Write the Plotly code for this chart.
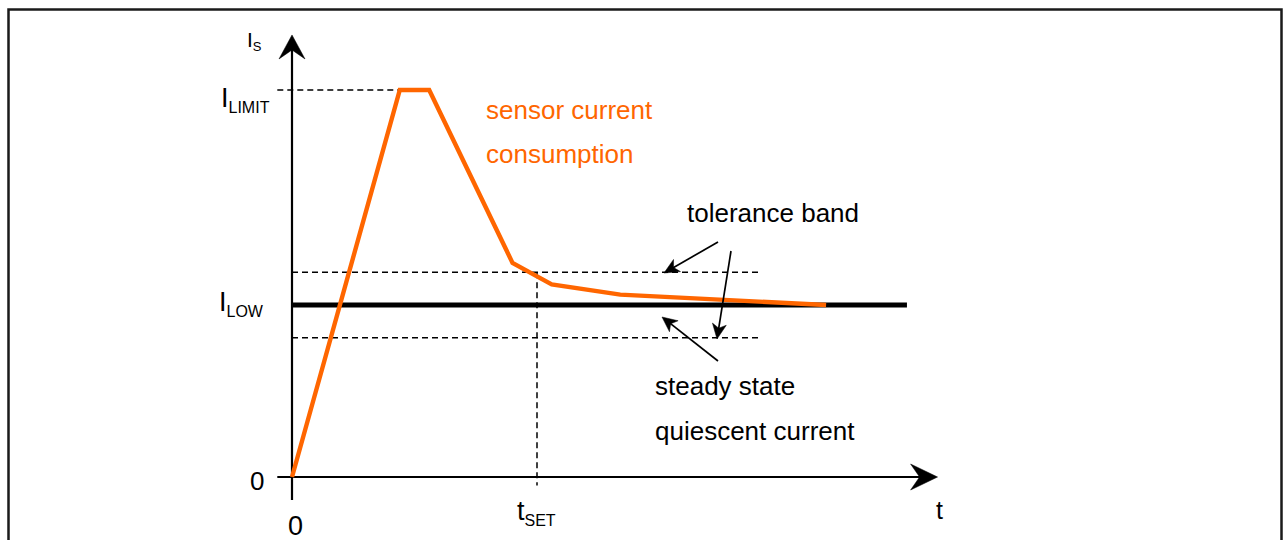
import plotly.graph_objects as go

# ---------------- data (t in units of t_SET, I in units of I_LOW) ----------------
t_curve = [0.0, 0.44, 0.56, 0.90, 1.06, 1.34, 2.18]
i_curve = [0.0, 2.25, 2.25, 1.245, 1.12, 1.06, 1.0]
I_LIMIT = 2.25
I_LOW = 1.0
TOL = 0.19
T_SET = 1.0
T_AXIS_END = 2.635
I_AXIS_END = 2.57
T_AXIS_START = -0.06
I_AXIS_START = -0.134
T_LOW_END = 2.51
T_TOL_END = 1.91
T_LIMIT_START = -0.06
I_TSET_BOTTOM = -0.05

y_tick_labels = ["0", "I<sub><span style='font-size:16px'>LOW</span></sub>",
                 "I<sub><span style='font-size:16px'>LIMIT</span></sub>"]
x_tick_labels = ["0", "t<sub><span style='font-size:16px'>SET</span></sub>"]
axis_titles = ["I<sub><span style='font-size:13px'>S</span></sub>", "t"]
curve_label = ["sensor current", "consumption"]
band_label = "tolerance band"
steady_label = ["steady state", "quiescent current"]

# ---------------- layout mapping ----------------
W, H = 1287, 540
X0PX, Y0PX = 292, 477
SX, SY = 245.0, 172.0


def dx(px):
    return (px - X0PX) / SX


def dy(py):
    return (Y0PX - py) / SY


def tpx(t):
    return X0PX + t * SX


def ipx(i):
    return Y0PX - i * SY


FONT = "Liberation Sans, Arial, sans-serif"
ORANGE = "#FF6600"

fig = go.Figure()

shapes = []


def line(x0, y0, x1, y1, width, dash="solid", color="black", layer="below"):
    shapes.append(dict(type="line", xref="x", yref="y", x0=x0, y0=y0, x1=x1, y1=y1,
                       line=dict(color=color, width=width, dash=dash), layer=layer))


def head(tip_t, tip_i, tail_t, tail_i, length, half, notch, layer="above"):
    # compute in pixel space, convert back to data space
    tx, ty = tpx(tip_t), ipx(tip_i)
    bx, by = tpx(tail_t), ipx(tail_i)
    vx, vy = tx - bx, ty - by
    n = (vx * vx + vy * vy) ** 0.5
    ux, uy = vx / n, vy / n
    px_, py_ = -uy, ux
    backx, backy = tx - ux * length, ty - uy * length
    lx, ly = backx + px_ * half, backy + py_ * half
    rx, ry = backx - px_ * half, backy - py_ * half
    nx, ny = tx - ux * (length - notch), ty - uy * (length - notch)
    pts = [(tx, ty), (lx, ly), (nx, ny), (rx, ry)]
    path = "M " + " L ".join(f"{dx(a):.5f},{dy(b):.5f}" for a, b in pts) + " Z"
    shapes.append(dict(type="path", xref="x", yref="y", path=path,
                       fillcolor="black", line=dict(color="black", width=0.5), layer=layer))


DASH = "6px,4px"
# dashed reference lines
line(T_LIMIT_START, I_LIMIT, t_curve[1], I_LIMIT, 1.5, DASH)
line(0, I_LOW + TOL, T_TOL_END, I_LOW + TOL, 1.5, DASH)
line(0, I_LOW - TOL, T_TOL_END, I_LOW - TOL, 1.5, DASH)
line(T_SET, I_LOW + TOL, T_SET, I_TSET_BOTTOM, 1.5, DASH)
# axes
line(0, I_AXIS_START, 0, I_AXIS_END - 0.08, 2.2)
line(T_AXIS_START, 0, T_AXIS_END - 0.06, 0, 2.2)
head(0, I_AXIS_END, 0, 0, 24, 13, 9, layer="below")
head(T_AXIS_END, 0, 0, 0, 27, 13, 9, layer="below")
# steady state level
line(0, I_LOW, T_LOW_END, I_LOW, 4.8)

# annotation arrows (tail -> tip), data units
arrows = [
    ((dx(718), dy(242)), (dx(664), dy(273))),
    ((dx(731), dy(251)), (dx(717), dy(339))),
    ((dx(718), dy(361)), (dx(662), dy(317))),
]
for (at, ai), (bt, bi) in arrows:
    line(at, ai, bt + (at - bt) * 0.05, bi + (ai - bi) * 0.05, 1.7, layer="above")
    head(bt, bi, at, ai, 15, 7, 4)

# outer frame
shapes.append(dict(type="rect", xref="paper", yref="paper",
                   x0=8.5 / W, x1=1281.5 / W, y0=-0.05, y1=1 - 9.5 / H,
                   line=dict(color="#1a1a1a", width=2.5), fillcolor="rgba(0,0,0,0)", layer="above"))

fig.add_trace(go.Scatter(x=t_curve, y=i_curve, mode="lines",
                         line=dict(color=ORANGE, width=4.4), hoverinfo="skip",
                         showlegend=False))

ann = []


def text(s, xpx, baseline, size, anchor="left", color="black"):
    ann.append(dict(text=s, x=dx(xpx), y=dy(baseline - 0.35 * size), xref="x", yref="y",
                    xanchor=anchor, yanchor="middle", showarrow=False,
                    font=dict(family=FONT, size=size, color=color)))


text(axis_titles[0], 245, 48, 21)
text(axis_titles[1], 939, 519, 25, anchor="center")
text(y_tick_labels[2], 272, 109, 27, anchor="right")
text(y_tick_labels[1], 266, 313, 27, anchor="right")
text(y_tick_labels[0], 257, 490, 26, anchor="center")
text(x_tick_labels[0], 295, 535, 27, anchor="center")
text(x_tick_labels[1], 536, 522, 27, anchor="center")
text(curve_label[0], 484, 119, 26, color=ORANGE)
text(curve_label[1], 484, 163, 26, color=ORANGE)
text(band_label, 685, 222, 26)
text(steady_label[0], 653, 395, 26)
text(steady_label[1], 653, 440, 26)

fig.update_layout(
    width=W, height=H,
    margin=dict(l=0, r=0, t=0, b=0),
    paper_bgcolor="white", plot_bgcolor="rgba(0,0,0,0)",
    shapes=shapes, annotations=ann,
    xaxis=dict(range=[dx(0), dx(W)], visible=False, fixedrange=True),
    yaxis=dict(range=[dy(H), dy(0)], visible=False, fixedrange=True),
    showlegend=False,
)

fig.write_html("out.html", config={"displayModeBar": False},
               post_script="document.body.style.margin='0px';document.body.style.overflow='hidden';")
